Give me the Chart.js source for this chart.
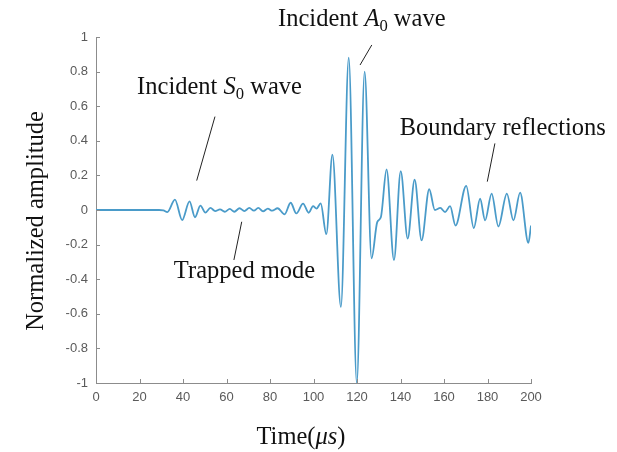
<!DOCTYPE html>
<html>
<head>
<meta charset="utf-8">
<script src="https://cdn.jsdelivr.net/npm/chart.js@4"></script>
<style>
  html, body { margin: 0; padding: 0; background: #fff; }
  #wrap { width: 617px; height: 452px; }
</style>
</head>
<body>
<div id="wrap"><canvas id="waveChart" width="617" height="452"></canvas></div>
<script>
// ── data ──
const timeUs = [0, 29, 31, 32.8, 36.3, 39.6, 43, 45.5, 48, 50.3, 52.6, 54.8, 57, 59.2, 61.5, 63.6, 66, 68.2,
  70.5, 72.6, 74.6, 76.8, 79, 81, 83.5, 86.7, 89.5, 92.1, 95.2, 97.8, 99.8, 101.4, 103.3, 105.9, 108.7,
  112.6, 116.2, 119.9, 123.5, 126.7, 129.3, 131, 133.6, 137, 140.1, 143.3, 146.5, 149.7, 153.2, 155.8,
  158.3, 160.5, 162.8, 165.3, 170.2, 173.7, 176.6, 178.9, 181.9, 185, 188.9, 191.9, 195, 198.8, 200];
const amplitude = [0, 0, -0.002, -0.012, 0.06, -0.058, 0.05, -0.042, 0.025, -0.015, 0.012, -0.006, 0.004, -0.01,
  0.006, -0.01, 0.01, -0.006, 0.012, -0.004, 0.012, -0.008, 0.008, -0.004, 0.01, -0.025, 0.042, -0.02, 0.037,
  -0.016, 0.022, 0.008, 0.038, -0.14, 0.32, -0.56, 0.88, -1.0, 0.8, -0.28, -0.07, -0.04, 0.235, -0.29, 0.225,
  -0.165, 0.175, -0.175, 0.12, 0.0, 0.012, -0.012, 0.022, -0.09, 0.14, -0.105, 0.065, -0.06, 0.095, -0.095,
  0.095, -0.06, 0.1, -0.19, -0.09];

const xTickLabels = ['0', '20', '40', '60', '80', '100', '120', '140', '160', '180', '200'];
const yTickLabels = ['-1', '-0.8', '-0.6', '-0.4', '-0.2', '0', '0.2', '0.4', '0.6', '0.8', '1'];

// annotation anchors in data units: [x, y] of text start, and leader line ends
const annotations = [
  { parts: [['Incident ', 'n'], ['S', 'i'], ['0', 's'], [' wave', 'n']], at: [18.9, 0.705], line: [[54.7, 0.54], [46.3, 0.17]] },
  { parts: [['Trapped mode', 'n']], at: [35.8, -0.355], line: [[67, -0.068], [63.4, -0.289]] },
  { parts: [['Incident ', 'n'], ['A', 'i'], ['0', 's'], [' wave', 'n']], at: [83.7, 1.1], line: [[126.8, 0.954], [121.4, 0.838]] },
  { parts: [['Boundary reflections', 'n']], at: [139.6, 0.47], line: [[183.4, 0.385], [179.9, 0.164]] }
];

const AXIS_COLOR = '#8c8c8c';
const SERIF = "'Liberation Serif', 'DejaVu Serif', serif";
const FS = 24.5;

// draws a run of text pieces: n = normal, i = italic, s = subscript
function drawRich(ctx, parts, x, y, size) {
  let cx = x;
  parts.forEach(([txt, st]) => {
    const fs = st === 's' ? size * 0.68 : size;
    ctx.font = (st === 'i' ? 'italic ' : '') + fs + 'px ' + SERIF;
    const dy = st === 's' ? size * 0.28 : 0;
    ctx.fillText(txt, cx, y + dy);
    cx += ctx.measureText(txt).width;
  });
  return cx - x;
}

const extrasPlugin = {
  id: 'extras',
  afterDraw(chart) {
    const { ctx, scales: { x, y }, chartArea } = chart;
    ctx.save();

    // inward tick marks
    ctx.strokeStyle = AXIS_COLOR;
    ctx.lineWidth = 1;
    ctx.beginPath();
    x.ticks.forEach(t => {
      const px = Math.round(x.getPixelForValue(t.value)) + 0.5;
      ctx.moveTo(px, chartArea.bottom);
      ctx.lineTo(px, chartArea.bottom - 4);
    });
    y.ticks.forEach(t => {
      const py = Math.round(y.getPixelForValue(t.value)) + 0.5;
      ctx.moveTo(chartArea.left, py);
      ctx.lineTo(chartArea.left + 4, py);
    });
    ctx.stroke();

    // annotations
    ctx.fillStyle = '#111';
    ctx.textBaseline = 'middle';
    ctx.textAlign = 'left';
    annotations.forEach(a => {
      drawRich(ctx, a.parts, x.getPixelForValue(a.at[0]), y.getPixelForValue(a.at[1]), FS);
      ctx.strokeStyle = '#222';
      ctx.lineWidth = 1;
      ctx.beginPath();
      ctx.moveTo(x.getPixelForValue(a.line[0][0]), y.getPixelForValue(a.line[0][1]));
      ctx.lineTo(x.getPixelForValue(a.line[1][0]), y.getPixelForValue(a.line[1][1]));
      ctx.stroke();
    });

    // axis titles
    const xParts = [['Time(', 'n'], ['\u03bcs', 'i'], [')', 'n']];
    let w = 0;
    xParts.forEach(([t, st]) => {
      ctx.font = (st === 'i' ? 'italic ' : '') + FS + 'px ' + SERIF;
      w += ctx.measureText(t).width;
    });
    drawRich(ctx, xParts, 301 - w / 2, 438, FS);

    ctx.translate(37, 221);
    ctx.rotate(-Math.PI / 2);
    ctx.textAlign = 'center';
    ctx.font = FS + 'px ' + SERIF;
    ctx.fillText('Normalized amplitude', 0, 0);
    ctx.restore();
  }
};

new Chart(document.getElementById('waveChart'), {
  type: 'line',
  data: {
    datasets: [{
      data: timeUs.map((t, i) => ({ x: t, y: amplitude[i] })),
      borderColor: '#4a9bc9',
      borderWidth: 1.8,
      pointRadius: 0,
      cubicInterpolationMode: 'monotone',
      fill: false
    }]
  },
  options: {
    responsive: false,
    animation: false,
    layout: { padding: { left: 0, top: 37, right: 86, bottom: 0 } },
    plugins: { legend: { display: false }, tooltip: { enabled: false } },
    scales: {
      x: {
        type: 'linear',
        min: 0, max: 200,
        afterFit: s => { s.height = 69; },
        grid: { display: true, drawOnChartArea: false, drawTicks: false },
        border: { display: true, color: AXIS_COLOR, width: 1 },
        ticks: {
          stepSize: 20, padding: 7, color: '#5a5a5a', maxRotation: 0,
          font: { family: "'Liberation Sans', Arial, sans-serif", size: 13 },
          callback: (v, i) => xTickLabels[i]
        }
      },
      y: {
        min: -1, max: 1,
        afterFit: s => { s.width = 96; },
        grid: { display: true, drawOnChartArea: false, drawTicks: false },
        border: { display: true, color: AXIS_COLOR, width: 1 },
        ticks: {
          stepSize: 0.2, padding: 8, color: '#5a5a5a',
          font: { family: "'Liberation Sans', Arial, sans-serif", size: 13 },
          callback: (v, i) => yTickLabels[i]
        }
      }
    }
  },
  plugins: [extrasPlugin]
});
</script>
</body>
</html>
